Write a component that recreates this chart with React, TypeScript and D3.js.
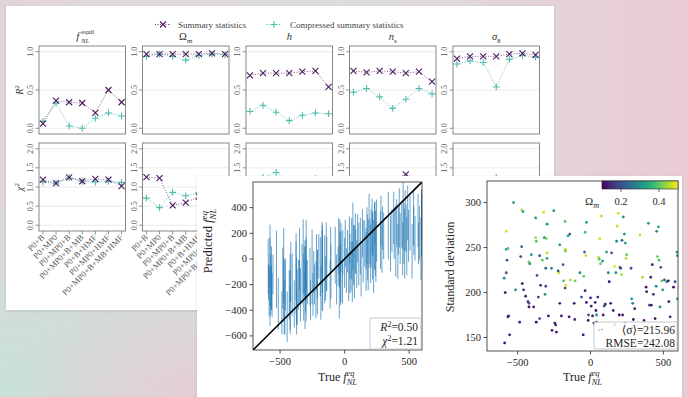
import React from 'react';
import * as d3 from 'd3';

const W = 688;
const H = 397;
const FONT = '"Liberation Serif", "DejaVu Serif", serif';

const categories = ['P0+B', 'P0+MP0', 'P0+MP0+B', 'P0+MP0+B+MB', 'P0+B+HMF', 'P0+MP0+HMF', 'P0+MP0+B+MB+HMF'];
const r2Ticks = [0, 0.5, 1.0];
const chi2Ticks = [0, 0.5, 1.0, 1.5, 2.0];

// R^2 per parameter: summary stats vs compressed
const r2SumFnl = [0.06, 0.36, 0.34, 0.33, 0.2, 0.5, 0.34];
const r2CompFnl = [0.09, 0.33, 0.03, 0.0, 0.13, 0.2, 0.16];
const r2SumOm = [0.97, 0.97, 0.97, 0.97, 0.97, 0.98, 0.97];
const r2CompOm = [0.94, 0.97, 0.94, 0.89, 0.95, 0.97, 0.96];
const r2SumH = [0.69, 0.72, 0.72, 0.72, 0.74, 0.75, 0.54];
const r2CompH = [0.22, 0.3, 0.21, 0.1, 0.17, 0.2, 0.19];
const r2SumNs = [0.75, 0.73, 0.75, 0.74, 0.72, 0.74, 0.61];
const r2CompNs = [0.47, 0.52, 0.41, 0.26, 0.38, 0.52, 0.45];
const r2SumS8 = [0.91, 0.94, 0.94, 0.94, 0.97, 0.98, 0.96];
const r2CompS8 = [0.84, 0.88, 0.86, 0.54, 0.9, 0.95, 0.93];

// chi^2 per parameter
const chiSumFnl = [1.19, 1.1, 1.25, 1.15, 1.21, 1.19, 1.02];
const chiCompFnl = [1.13, 1.1, 1.24, 1.15, 1.13, 1.15, 1.12];
const chiSumOm = [1.26, 1.23, 0.52, 0.59, 0.75, 0.8, 0.7];
const chiCompOm = [0.71, 0.46, 0.86, 0.77, 0.85, 0.9, 0.8];
const chiSumH = [1.1, 1.15, 1.2, 1.12, 1.18, 1.16, 1.05];
const chiCompH = [1.2, 1.25, 1.38, 1.15, 1.1, 1.22, 1.18];
const chiSumNs = [1.1, 1.12, 1.15, 1.2, 1.33, 1.18, 1.05];
const chiCompNs = [1.05, 1.1, 1.08, 1.15, 1.12, 1.1, 1.02];
const chiSumS8 = [1.1, 1.15, 1.12, 1.2, 1.18, 1.15, 1.05];
const chiCompS8 = [1.05, 1.08, 1.0, 1.25, 1.1, 1.12, 1.08];

// test set: true fNL, predicted mean, predicted std, Omega_m
const trueFnl = [
  -589, -555, -585, -592, -578, -573, -578, -567, -578, -562,
  -567, -528, -514, -486, -479, -472, -472, -463, -468, -459,
  -445, -429, -422, -422, -417, -422, -406, -390, -376, -372,
  -376, -372, -367, -358, -349, -342, -330, -321, -317, -307,
  -303, -307, -312, -298, -298, -298, -289, -268, -252, -245,
  -239, -234, -264, -218, -222, -211, -200, -211, -188, -184,
  -174, -174, -172, -170, -174, -154, -142, -147, -138, -112,
  -108, -106, -73, -62, -50, -46, -41, -37, -32, -37,
  -28, -28, -16, -14, 0, 5, 14, 23, 32, 37,
  41, 50, 55, 60, 64, 69, 76, 83, 87, 94,
  101, 110, 122, 128, 138, 144, 156, 167, 174, 179,
  183, 190, 197, 202, 206, 213, 216, 220, 225, 232,
  236, 239, 243, 248, 278, 282, 289, 294, 303, 339,
  356, 381, 385, 397, 404, 413, 417, 424, 431, 443,
  450, 454, 459, 466, 470, 477, 482, 489, 495, 507,
  523, 534, 537, 546, 569, 580, 592, 596, 596, 573,
  367, -349, 167, 41,
];
const predFnl = [
  -180, -120, -250, -60, -300, -200, 20, -150, -100, -280,
  -220, -80, -350, -420, -150, -240, -50, -300, -380, -200,
  -450, -280, -150, -400, -100, -320, -200, -350, -60, -250,
  -150, -420, -300, -200, 0, -280, -120, 20, -220, -60,
  -160, -320, -100, 30, -250, -80, -180, -140, -60, -280,
  -100, -200, -320, -30, -240, -120, 20, -180, -60, -260,
  40, -120, -20, -200, 60, -80, 20, -150, -40, -200,
  80, -100, 30, -160, -60, 100, -220, 40, -120, 10,
  -60, 90, -180, 50, -30, 120, -90, 60, -140, 150,
  20, -60, 80, -100, 180, 30, -20, 120, 60, -40,
  160, 40, 100, -80, 200, 60, 120, -20, 180, 90,
  30, 220, 140, 40, 160, 250, 100, 200, 20, 180,
  280, 120, 60, 220, 150, 300, 80, 240, 180, 260,
  120, 320, 200, 140, 280, 60, 220, 320, 160, 260,
  80, 340, 200, 120, 300, 240, 100, 360, 180, 280,
  60, 320, 220, 160, 300, 200, 80, 260, 350, 120,
  220, -180, 80, -100,
];
const sigmaFnl = [
  144, 153, 200, 216, 222, 236, 248, 249, 268, 174,
  173, 300, 203, 167, 240, 251, 292, 290, 210, 203,
  196, 190, 188, 184, 232, 234, 242, 184, 261, 257,
  283, 167, 219, 195, 241, 208, 236, 289, 261, 207,
  260, 227, 198, 276, 238, 244, 174, 227, 291, 166,
  164, 156, 158, 222, 224, 188, 174, 253, 231, 213,
  248, 279, 246, 208, 205, 263, 265, 173, 214, 188,
  170, 213, 222, 195, 153, 218, 245, 267, 241, 202,
  278, 189, 169, 175, 194, 185, 174, 166, 189, 180,
  175, 195, 239, 237, 260, 232, 285, 235, 175, 185,
  187, 245, 222, 212, 188, 244, 180, 229, 222, 257,
  274, 288, 175, 228, 227, 220, 258, 175, 284, 265,
  166, 255, 238, 242, 227, 193, 188, 170, 182, 264,
  217, 206, 201, 277, 186, 217, 186, 231, 198, 171,
  207, 268, 240, 273, 236, 184, 228, 213, 203, 214,
  212, 213, 190, 173, 206, 212, 245, 241, 193, 163,
  169, 171, 164, 167,
];
const omegaM = [
  0.12, 0.13, 0.11, 0.3, 0.21, 0.22, 0.31, 0.4, 0.47, 0.12,
  0.14, 0.32, 0.29, 0.13, 0.2, 0.23, 0.46, 0.33, 0.12, 0.15,
  0.13, 0.14, 0.21, 0.12, 0.3, 0.41, 0.32, 0.13, 0.45, 0.39,
  0.31, 0.11, 0.22, 0.19, 0.21, 0.14, 0.4, 0.48, 0.33, 0.2,
  0.42, 0.23, 0.29, 0.31, 0.34, 0.46, 0.13, 0.3, 0.32, 0.12,
  0.14, 0.11, 0.13, 0.47, 0.21, 0.15, 0.12, 0.31, 0.22, 0.39,
  0.45, 0.4, 0.42, 0.48, 0.2, 0.33, 0.22, 0.12, 0.46, 0.13,
  0.14, 0.41, 0.3, 0.21, 0.11, 0.4, 0.23, 0.38, 0.47, 0.14,
  0.32, 0.13, 0.12, 0.2, 0.15, 0.12, 0.13, 0.11, 0.14, 0.12,
  0.3, 0.15, 0.46, 0.4, 0.47, 0.41, 0.45, 0.31, 0.13, 0.2,
  0.14, 0.33, 0.29, 0.12, 0.13, 0.22, 0.14, 0.48, 0.31, 0.3,
  0.46, 0.47, 0.12, 0.21, 0.19, 0.45, 0.22, 0.13, 0.32, 0.3,
  0.11, 0.33, 0.46, 0.4, 0.21, 0.31, 0.29, 0.12, 0.14, 0.47,
  0.45, 0.12, 0.13, 0.32, 0.2, 0.14, 0.12, 0.13, 0.15, 0.11,
  0.31, 0.3, 0.41, 0.33, 0.39, 0.3, 0.22, 0.4, 0.32, 0.21,
  0.31, 0.13, 0.12, 0.14, 0.12, 0.2, 0.33, 0.3, 0.32, 0.11,
  0.13, 0.2, 0.12, 0.14,
];

const ebTicksY = [-600, -400, -200, 0, 200, 400];
const fnlTicksX = [-500, 0, 500];
const stdTicks = [150, 200, 250, 300];
const cbTicks = [0.2, 0.4];

const SUM_C = '#4b1c5f';
const COMP_C = '#52bcae';
const fmt1 = d3.format('.1f');
const fmtInt = (v: number) => (v < 0 ? '\u2212' + Math.abs(v) : String(v));

const params = [
  { key: 'fnl', r2: [r2SumFnl, r2CompFnl], chi: [chiSumFnl, chiCompFnl] },
  { key: 'om', r2: [r2SumOm, r2CompOm], chi: [chiSumOm, chiCompOm] },
  { key: 'h', r2: [r2SumH, r2CompH], chi: [chiSumH, chiCompH] },
  { key: 'ns', r2: [r2SumNs, r2CompNs], chi: [chiSumNs, chiCompNs] },
  { key: 's8', r2: [r2SumS8, r2CompS8], chi: [chiSumS8, chiCompS8] },
];

const FnlEq = ({ size }: { size: number }) => (
  <>
    <tspan fontStyle="italic">f</tspan>
    <tspan fontStyle="italic" fontSize={size * 0.7} dy={-size * 0.38}>eq</tspan>
    <tspan fontStyle="italic" fontSize={size * 0.7} dx={-size * 0.66} dy={size * 0.68}>NL</tspan>
  </>
);

const Title = ({ k, x, y }: { k: string; x: number; y: number }) => {
  if (k === 'fnl')
    return (
      <g fill="#333">
        <text x={x - 6} y={y} fontSize={11} fontStyle="italic">f</text>
        <text x={x - 1} y={y - 6} fontSize={6.5}>equil</text>
        <text x={x - 1} y={y + 2.5} fontSize={6.5} fontStyle="italic">NL</text>
      </g>
    );
  let body: React.ReactNode = null;
  if (k === 'om')
    body = (
      <>
        <tspan>Ω</tspan>
        <tspan fontSize={7} dy={2.5}>m</tspan>
      </>
    );
  if (k === 'h') body = <tspan fontStyle="italic">h</tspan>;
  if (k === 'ns')
    body = (
      <>
        <tspan fontStyle="italic">n</tspan>
        <tspan fontSize={7} dy={2.5}>s</tspan>
      </>
    );
  if (k === 's8')
    body = (
      <>
        <tspan fontStyle="italic">σ</tspan>
        <tspan fontSize={7} dy={2.5}>8</tspan>
      </>
    );
  return (
    <text x={x} y={y} fontSize={10.5} textAnchor="middle" fill="#333">
      {body}
    </text>
  );
};

const Cross = ({ x, y, c, r = 3 }: { x: number; y: number; c: string; r?: number }) => (
  <path d={`M${x - r},${y - r}L${x + r},${y + r}M${x - r},${y + r}L${x + r},${y - r}`} stroke={c} strokeWidth={1.1} />
);
const Plus = ({ x, y, c, r = 3.4 }: { x: number; y: number; c: string; r?: number }) => (
  <path d={`M${x - r},${y}H${x + r}M${x},${y - r}V${y + r}`} stroke={c} strokeWidth={1.1} />
);

const SmallMultiples = () => {
  const left0 = 39;
  const step = 103.5;
  const pw = 86.5;
  const rows = [
    { top: 46, bottom: 134, domain: [-0.075, 1.075], ticks: r2Ticks, field: 'r2' },
    { top: 143, bottom: 231, domain: [-0.15, 2.15], ticks: chi2Ticks, field: 'chi' },
  ];
  return (
    <g fontFamily={FONT}>
      {params.map((p, pi) => {
        const l = left0 + pi * step;
        const x = d3.scaleLinear().domain([-0.3, 6.3]).range([l, l + pw]);
        return (
          <g key={p.key}>
            <Title k={p.key} x={l + pw / 2} y={40} />
            {rows.map((row, ri) => {
              const y = d3.scaleLinear().domain(row.domain).range([row.bottom, row.top]);
              const [sum, comp] = (p as any)[row.field] as number[][];
              const line = d3
                .line<number>()
                .x((_, i) => x(i))
                .y((v) => y(v));
              return (
                <g key={ri}>
                  {row.ticks.map((t) => (
                    <g key={t}>
                      <line x1={l} x2={l + pw} y1={y(t)} y2={y(t)} stroke="#e4e4e4" strokeWidth={0.8} />
                      <line x1={l - 3.5} x2={l} y1={y(t)} y2={y(t)} stroke="#777" strokeWidth={0.8} />
                      <text
                        transform={`translate(${l - 6},${y(t)}) rotate(-90)`}
                        fontSize={8}
                        textAnchor="middle"
                        fill="#555"
                      >
                        {fmt1(t)}
                      </text>
                    </g>
                  ))}
                  <path d={line(comp) || ''} fill="none" stroke={COMP_C} strokeWidth={0.9} strokeDasharray="1,1.6" />
                  <path d={line(sum) || ''} fill="none" stroke={SUM_C} strokeWidth={0.9} strokeDasharray="1,1.6" opacity={0.8} />
                  {comp.map((v, i) => (
                    <Plus key={'c' + i} x={x(i)} y={y(v)} c={COMP_C} />
                  ))}
                  {sum.map((v, i) => (
                    <Cross key={'s' + i} x={x(i)} y={y(v)} c={SUM_C} />
                  ))}
                  <rect x={l} y={row.top} width={pw} height={row.bottom - row.top} fill="none" stroke="#7a7a7a" strokeWidth={0.9} />
                  {ri === 1 &&
                    categories.map((c, i) => (
                      <g key={c}>
                        <line x1={x(i)} x2={x(i)} y1={row.bottom} y2={row.bottom + 3.5} stroke="#777" strokeWidth={0.8} />
                        <text
                          transform={`translate(${x(i) + 2},${row.bottom + 7}) rotate(-45)`}
                          fontSize={8.5}
                          textAnchor="end"
                          fill="#555"
                        >
                          {c}
                        </text>
                      </g>
                    ))}
                </g>
              );
            })}
          </g>
        );
      })}
      <text transform="translate(23,90) rotate(-90)" fontSize={10} textAnchor="middle" fill="#333">
        <tspan fontStyle="italic">R</tspan>
        <tspan fontSize={7} dy={-4}>2</tspan>
      </text>
      <text transform="translate(23,187) rotate(-90)" fontSize={10} textAnchor="middle" fill="#333">
        <tspan fontStyle="italic">χ</tspan>
        <tspan fontSize={7} dy={-4}>2</tspan>
      </text>
      {/* legend */}
      <line x1={155} x2={171} y1={24.5} y2={24.5} stroke={SUM_C} strokeWidth={0.9} strokeDasharray="1,1.6" />
      <Cross x={163} y={24.5} c={SUM_C} />
      <text x={178} y={28} fontSize={9} fill="#444">Summary statistics</text>
      <line x1={266} x2={282} y1={24.5} y2={24.5} stroke={COMP_C} strokeWidth={0.9} strokeDasharray="1,1.6" />
      <Plus x={274} y={24.5} c={COMP_C} />
      <text x={290} y={28} fontSize={9} fill="#444">Compressed summary statistics</text>
    </g>
  );
};

const ErrorbarPanel = () => {
  const l = 253, r = 422, t = 182, b = 350;
  const x = d3.scaleLinear().domain([-710, 600]).range([l, r]);
  const y = d3.scaleLinear().domain([-710, 600]).range([b, t]);
  return (
    <g fontFamily={FONT} fill="#262626">
      <defs>
        <clipPath id="ebclip">
          <rect x={l} y={t} width={r - l} height={b - t} />
        </clipPath>
      </defs>
      <g clipPath="url(#ebclip)">
        {trueFnl.map((tv, i) => (
          <line
            key={i}
            x1={x(tv)}
            x2={x(tv)}
            y1={y(predFnl[i] - sigmaFnl[i])}
            y2={y(predFnl[i] + sigmaFnl[i])}
            stroke="#1f77b4"
            strokeWidth={1}
            opacity={0.68}
          />
        ))}
        <line x1={x(-710)} y1={y(-710)} x2={x(600)} y2={y(600)} stroke="#000" strokeWidth={1.6} />
      </g>
      <rect x={l} y={t} width={r - l} height={b - t} fill="none" stroke="#262626" strokeWidth={0.8} />
      {ebTicksY.map((v) => (
        <g key={v}>
          <line x1={l - 3.5} x2={l} y1={y(v)} y2={y(v)} stroke="#262626" strokeWidth={0.8} />
          <text x={l - 6} y={y(v) + 3.5} fontSize={10.5} textAnchor="end">{fmtInt(v)}</text>
        </g>
      ))}
      {fnlTicksX.map((v) => (
        <g key={v}>
          <line x1={x(v)} x2={x(v)} y1={b} y2={b + 3.5} stroke="#262626" strokeWidth={0.8} />
          <text x={x(v)} y={b + 15} fontSize={10.5} textAnchor="middle">{fmtInt(v)}</text>
        </g>
      ))}
      <text transform={`translate(${(l + r) / 2},${381})`} fontSize={12} textAnchor="middle">
        <tspan>True </tspan>
        <FnlEq size={12} />
      </text>
      <text transform={`translate(212,241) rotate(-90)`} fontSize={12.5} textAnchor="middle">
        <tspan>Predicted </tspan>
        <FnlEq size={12.5} />
      </text>
      <rect x={370} y={318} width={51} height={31} fill="#fff" fillOpacity={0.85} stroke="#bbb" strokeWidth={0.8} rx={1} />
      <text x={418} y={331} fontSize={11.5} textAnchor="end">
        <tspan fontStyle="italic">R</tspan>
        <tspan fontSize={8} dy={-4}>2</tspan>
        <tspan dy={4}>=0.50</tspan>
      </text>
      <text x={418} y={345} fontSize={11.5} textAnchor="end">
        <tspan fontStyle="italic">χ</tspan>
        <tspan fontSize={8} dy={-4}>2</tspan>
        <tspan dy={4}>=1.21</tspan>
      </text>
    </g>
  );
};

const ScatterPanel = () => {
  const l = 487, r = 678, t = 181, b = 351;
  const x = d3.scaleLinear().domain([-710, 600]).range([l, r]);
  const y = d3.scaleLinear().domain([135, 324]).range([b, t]);
  const color = d3.scaleSequential(d3.interpolateViridis).domain([0.1, 0.5]);
  const cbL = 602, cbR = 678, cbT = 181, cbB = 189;
  const cbX = d3.scaleLinear().domain([0.1, 0.5]).range([cbL, cbR]);
  const stops = d3.range(0, 1.0001, 0.1);
  return (
    <g fontFamily={FONT} fill="#262626">
      <defs>
        <clipPath id="scclip">
          <rect x={l} y={t} width={r - l} height={b - t} />
        </clipPath>
        <linearGradient id="viridis" x1="0" x2="1" y1="0" y2="0">
          {stops.map((s) => (
            <stop key={s} offset={s} stopColor={d3.interpolateViridis(s)} />
          ))}
        </linearGradient>
      </defs>
      <g clipPath="url(#scclip)">
        {trueFnl.map((tv, i) => (
          <circle key={i} cx={x(tv)} cy={y(sigmaFnl[i])} r={1.4} fill={color(omegaM[i])} />
        ))}
      </g>
      <rect x={l} y={t} width={r - l} height={b - t} fill="none" stroke="#262626" strokeWidth={0.8} />
      {stdTicks.map((v) => (
        <g key={v}>
          <line x1={l - 3.5} x2={l} y1={y(v)} y2={y(v)} stroke="#262626" strokeWidth={0.8} />
          <text x={l - 6} y={y(v) + 3.5} fontSize={10.5} textAnchor="end">{v}</text>
        </g>
      ))}
      {fnlTicksX.map((v) => (
        <g key={v}>
          <line x1={x(v)} x2={x(v)} y1={b} y2={b + 3.5} stroke="#262626" strokeWidth={0.8} />
          <text x={x(v)} y={b + 15} fontSize={10.5} textAnchor="middle">{fmtInt(v)}</text>
        </g>
      ))}
      <text transform={`translate(${(l + r) / 2},${381})`} fontSize={12} textAnchor="middle">
        <tspan>True </tspan>
        <FnlEq size={12} />
      </text>
      <text transform={`translate(454,267) rotate(-90)`} fontSize={12} textAnchor="middle">
        Standard deviation
      </text>
      {/* colorbar */}
      <rect x={cbL} y={cbT} width={cbR - cbL} height={cbB - cbT} fill="url(#viridis)" stroke="#262626" strokeWidth={0.6} />
      {cbTicks.map((v) => (
        <g key={v}>
          <line x1={cbX(v)} x2={cbX(v)} y1={cbB} y2={cbB + 3} stroke="#262626" strokeWidth={0.7} />
          <text x={cbX(v)} y={cbB + 16} fontSize={10.5} textAnchor="middle">{fmt1(v)}</text>
        </g>
      ))}
      <text x={592} y={cbB + 16} fontSize={11} textAnchor="middle">
        <tspan>Ω</tspan>
        <tspan fontSize={8} fontStyle="italic" dy={2.5}>m</tspan>
      </text>
      {/* stats box */}
      <rect x={594} y={322} width={83} height={27} fill="#fff" fillOpacity={0.85} stroke="#bbb" strokeWidth={0.8} rx={1} />
      <circle cx={599} cy={330} r={0.8} fill="#8aa0b8" />
      <circle cx={602} cy={329.5} r={0.8} fill="#8aa0b8" />
      <text x={675} y={334} fontSize={11.5} textAnchor="end">⟨σ⟩=215.96</text>
      <text x={675} y={347} fontSize={11.5} textAnchor="end">RMSE=242.08</text>
    </g>
  );
};

export default function App() {
  return (
    <svg
      width={W}
      height={H}
      viewBox={`0 0 ${W} ${H}`}
      style={{ position: 'absolute', left: 0, top: 0, display: 'block' }}
    >
      <defs>
        <linearGradient id="bgBase" x1="0" y1="0" x2="1" y2="0">
          <stop offset="0" stopColor="#e2d5d9" />
          <stop offset="0.5" stopColor="#dcdedb" />
          <stop offset="1" stopColor="#e9cbd3" />
        </linearGradient>
        <radialGradient id="bgTeal" cx="0" cy="1" r="0.55">
          <stop offset="0" stopColor="#c6e2da" stopOpacity={1} />
          <stop offset="1" stopColor="#c6e2da" stopOpacity={0} />
        </radialGradient>
        <radialGradient id="bgPink" cx="0.3" cy="1" r="0.3">
          <stop offset="0" stopColor="#e6cdd3" stopOpacity={1} />
          <stop offset="1" stopColor="#e6cdd3" stopOpacity={0} />
        </radialGradient>
        <filter id="shadow" x="-5%" y="-5%" width="110%" height="110%">
          <feDropShadow dx="0" dy="1" stdDeviation="1.5" floodColor="#000" floodOpacity="0.12" />
        </filter>
      </defs>
      <rect x={0} y={0} width={W} height={H} fill="url(#bgBase)" />
      <rect x={0} y={0} width={W} height={H} fill="url(#bgTeal)" />
      <rect x={0} y={0} width={W} height={H} fill="url(#bgPink)" />

      <rect x={6} y={6} width={548} height={304} fill="#fff" filter="url(#shadow)" />
      <SmallMultiples />

      <rect x={197} y={176} width={485} height={230} fill="#fff" filter="url(#shadow)" />
      <ErrorbarPanel />
      <ScatterPanel />
    </svg>
  );
}
